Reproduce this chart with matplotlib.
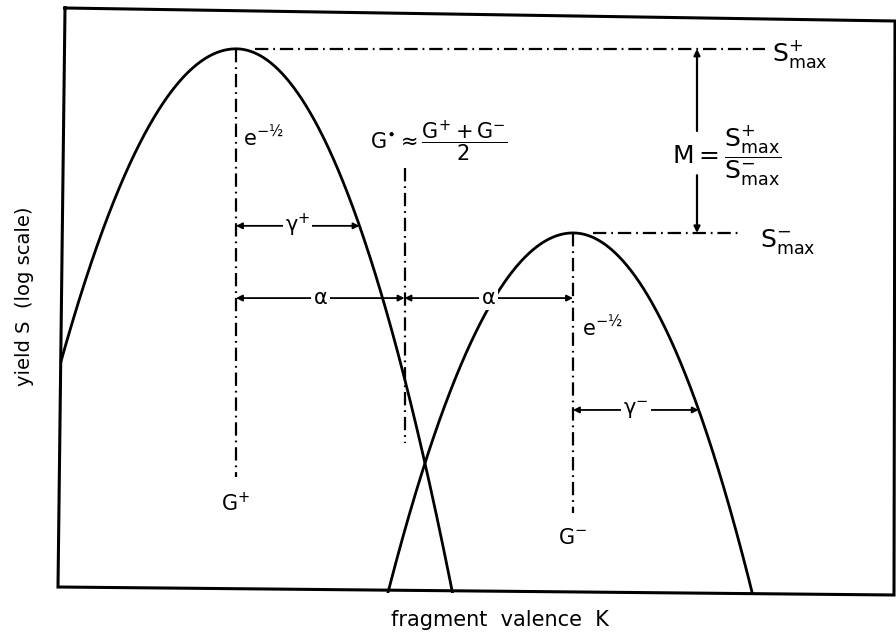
import matplotlib.pyplot as plt
import numpy as np

plt.rcParams['font.family'] = 'DejaVu Sans'
plt.rcParams['mathtext.fontset'] = 'dejavusans'
plt.rcParams['mathtext.default'] = 'regular'

# schematic values: K measured from the left frame edge, y in ln S above the bottom
peaks = ['+', '-']
G = [176, 513]              # peak positions G+ and G-
S_max = [1.537, 1.017]      # ln S_max+ and ln S_max-
gamma_right = [123.5, 125.7]
gamma_left = [131.7, 129.8]

K_max = 834
lnS_top = 1.641

fig = plt.figure(figsize=(8.96, 6.33), dpi=100)

# overlay for the (slightly skewed) scanned frame and the axis titles
bg = fig.add_axes([0, 0, 1, 1])
bg.set_xlim(0, 896)
bg.set_ylim(633, 0)
bg.axis('off')
bg.plot([65, 895, 894, 58, 65], [8, 21, 595, 587, 8], color='k', lw=2.2,
        solid_joinstyle='miter')
bg.text(500, 620, 'fragment  valence  K', ha='center', va='center', fontsize=15)
bg.text(25, 296, 'yield S  (log scale)', ha='center', va='center', rotation=90,
        fontsize=14)

ax = fig.add_axes([60 / 896, 1 - 593 / 633, 834 / 896, 581 / 633])
ax.set_xlim(0, K_max)
ax.set_ylim(0, lnS_top)
ax.axis('off')

K = np.linspace(0, K_max, 1200)
for g, s, gr, gl in zip(G, S_max, gamma_right, gamma_left):
    w = np.where(K < g, gl, gr)
    lnS = s - (K - g) ** 2 / (2 * w ** 2)
    ax.plot(K, lnS, color='k', lw=2.0)

dashdot = (0, (6, 2.2, 0.8, 2.2))
ddkw = dict(color='k', lw=1.6, linestyle=dashdot)

G_star = (G[0] + G[1]) / 2

# vertical guides
ax.plot([G[0], G[0]], [S_max[0], 0.328], **ddkw)
ax.plot([G[1], G[1]], [S_max[1], 0.226], **ddkw)
ax.plot([G_star, G_star], [1.201, 0.424], **ddkw)

# horizontal guides at the maxima
ax.plot([195, 705], [S_max[0], S_max[0]], **ddkw)
ax.plot([533, 682], [S_max[1], S_max[1]], **ddkw)
ax.text(712, S_max[0] - 0.015, r'$S^{+}_{max}$', ha='left', va='center', fontsize=18)
ax.text(700, S_max[1] - 0.025, r'$S^{-}_{max}$', ha='left', va='center', fontsize=18)


def dim_arrow(x0, x1, y, label):
    ax.annotate('', xy=(x0, y), xytext=(x1, y),
                arrowprops=dict(arrowstyle='<|-|>', color='k', lw=1.3,
                                mutation_scale=9, shrinkA=0, shrinkB=0))
    ax.text((x0 + x1) / 2, y, label, ha='center', va='center', fontsize=15,
            bbox=dict(facecolor='white', edgecolor='none', pad=1.5))


# widths at e^-1/2
dim_arrow(G[0], G[0] + gamma_right[0], S_max[0] - 0.5, r'$\gamma^{+}$')
dim_arrow(G[1], G[1] + gamma_right[1], S_max[1] - 0.5, r'$\gamma^{-}$')

# alpha distances
y_alpha = 0.833
dim_arrow(G[0], G_star, y_alpha, r'$\alpha$')
dim_arrow(G_star, G[1], y_alpha, r'$\alpha$')

# M arrow between the maxima
x_m = 637
ax.annotate('', xy=(x_m, S_max[0]), xytext=(x_m, 1.305),
            arrowprops=dict(arrowstyle='-|>', color='k', lw=1.6,
                            mutation_scale=9, shrinkA=0, shrinkB=0))
ax.annotate('', xy=(x_m, S_max[1]), xytext=(x_m, 1.18),
            arrowprops=dict(arrowstyle='-|>', color='k', lw=1.6,
                            mutation_scale=9, shrinkA=0, shrinkB=0))
ax.text(612, 1.236, r'$M = \dfrac{S^{+}_{max}}{S^{-}_{max}}$',
        ha='left', va='center', fontsize=18)

# labels
ax.text(G[0] + 7, S_max[0] - 0.25, r'e$^{-½}$', ha='left', va='center', fontsize=15)
ax.text(G[1] + 9, S_max[1] - 0.266, r'e$^{-½}$', ha='left', va='center', fontsize=15)
ax.text(G[0], 0.254, r'$G^{+}$', ha='center', va='center', fontsize=15)
ax.text(G[1], 0.155, r'$G^{-}$', ha='center', va='center', fontsize=15)
ax.text(310, 1.275, r'$G^{\bullet} \approx \dfrac{G^{+} + G^{-}}{2}$',
        ha='left', va='center', fontsize=15)

fig.savefig('out.png', dpi=100)
